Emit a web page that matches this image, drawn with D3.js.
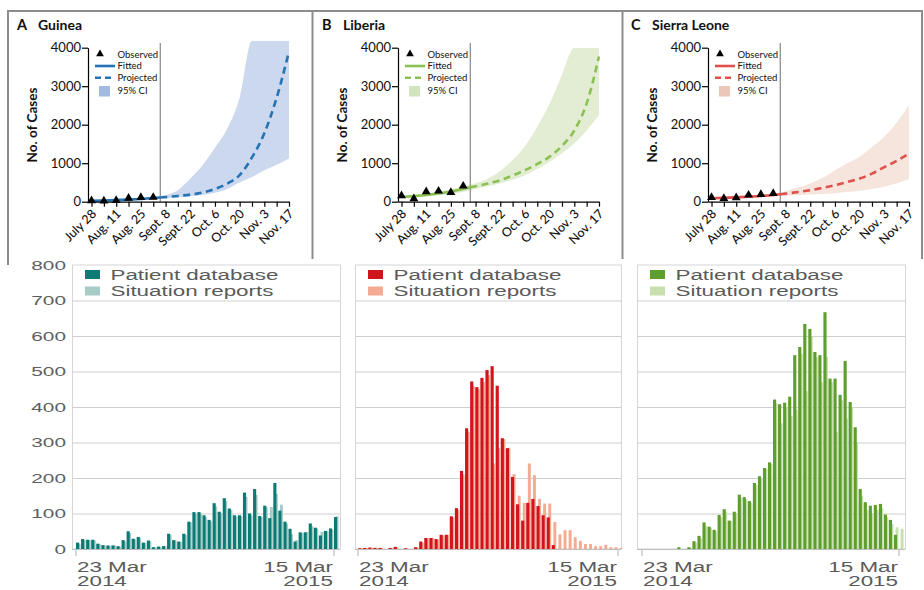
<!DOCTYPE html>
<html>
<head>
<meta charset="utf-8">
<script src="https://cdn.jsdelivr.net/npm/d3@7"></script>
<style>
body { margin: 0; background: #fff; }
svg { display: block; }
.top text { font-family: Lato, "Liberation Sans", sans-serif; fill: #111; }
.bot text { font-family: "Liberation Sans", Arial, sans-serif; }
</style>
</head>
<body>
<svg id="chart" width="924" height="590"></svg>
<script>
// ---- top row: projections (weekly) ----
var countries = ["Guinea", "Liberia", "Sierra Leone"];
var letters = ["A", "B", "C"];

var obsDates = ["2014-07-28", "2014-08-04", "2014-08-11", "2014-08-18", "2014-08-25", "2014-09-01"];
var obsGuinea = [25, 20, 35, 90, 110, 115];
var obsLiberia = [155, 80, 260, 277, 242, 407];
var obsSierra = [113, 87, 104, 173, 190, 216];

// fitted up to the cut-off date, projected after it
var curveDates = ["2014-07-28", "2014-08-04", "2014-08-11", "2014-08-18", "2014-08-25", "2014-09-01", "2014-09-05",
  "2014-09-08", "2014-09-15", "2014-09-22", "2014-09-29", "2014-10-06", "2014-10-13", "2014-10-20",
  "2014-10-27", "2014-11-03", "2014-11-10", "2014-11-17"];
var cutDate = "2014-09-05";

var midGuinea = [25, 32, 42, 55, 72, 95, 110, 120, 150, 185, 240, 330, 470, 690, 1150, 1775, 2700, 3900];
var lowGuinea = [12, 18, 26, 36, 50, 68, 80, 88, 110, 140, 175, 230, 330, 500, 640, 820, 960, 1125];
var highGuinea = [45, 55, 68, 85, 105, 130, 145, 175, 300, 600, 950, 1400, 1900, 2700, 4180, 4180, 4180, 4180];

var midLiberia = [120, 145, 175, 215, 265, 330, 375, 400, 470, 560, 680, 820, 980, 1170, 1450, 1850, 2550, 3770];
var lowLiberia = [90, 110, 135, 165, 205, 255, 290, 330, 400, 475, 570, 690, 850, 1040, 1260, 1515, 1850, 2250];
var highLiberia = [150, 180, 215, 265, 325, 400, 450, 480, 600, 800, 1080, 1450, 1950, 2550, 3300, 4000, 4000, 4000];

var midSierra = [90, 100, 115, 130, 150, 175, 195, 210, 250, 300, 360, 430, 510, 600, 730, 900, 1060, 1250];
var lowSierra = [70, 78, 88, 100, 115, 135, 148, 155, 170, 185, 200, 220, 250, 285, 330, 390, 480, 590];
var highSierra = [115, 125, 142, 160, 185, 215, 240, 280, 370, 475, 620, 820, 1000, 1170, 1420, 1690, 2050, 2510];

var xLabelDates = ["2014-07-28", "2014-08-11", "2014-08-25", "2014-09-08", "2014-09-22", "2014-10-06", "2014-10-20", "2014-11-03", "2014-11-17"];
var xLabels = ["July 28", "Aug. 11", "Aug. 25", "Sept. 8", "Sept. 22", "Oct. 6", "Oct. 20", "Nov. 3", "Nov. 17"];
var yTicksTop = [0, 1000, 2000, 3000, 4000];
var legendTop = ["Observed", "Fitted", "Projected", "95% CI"];

// ---- bottom row: weekly incidence, 23 Mar 2014 .. 15 Mar 2015 ----
var weekStart = "2014-03-23", weekEnd = "2015-03-15";
var patGuinea = [18, 28, 26, 26, 15, 11, 10, 10, 8, 25, 50, 29, 34, 18, 24, 5, 7, 8, 43, 25, 21, 43, 77, 104, 104, 95,
  82, 129, 105, 143, 114, 95, 95, 159, 100, 169, 93, 122, 87, 186, 108, 77, 57, 21, 47, 47, 72, 60, 38, 51, 58, 90];
var sitGuinea = [15, 25, 25, 24, 14, 10, 9, 10, 7, 22, 45, 27, 30, 17, 22, 5, 6, 8, 40, 24, 20, 40, 75, 100, 100, 90,
  78, 120, 100, 135, 110, 92, 93, 147, 95, 152, 90, 118, 118, 155, 125, 72, 42, 25, 45, 48, 65, 58, 48, 50, 55, 92];
var patLiberia = [2, 3, 4, 3, 3, 0, 3, 6, 0, 2, 0, 5, 21, 31, 31, 28, 40, 40, 92, 115, 220, 340, 472, 456, 482, 504,
  515, 460, 312, 284, 203, 126, 80, 130, 141, 121, 95, 89, 11, 0, 0, 0, 0, 0, 0, 0, 0, 0, 0, 0, 0, 0];
var sitLiberia = [3, 3, 4, 3, 3, 0, 3, 5, 0, 2, 0, 4, 18, 30, 30, 27, 38, 40, 88, 110, 210, 330, 460, 450, 470, 490,
  241, 285, 310, 285, 211, 150, 130, 241, 208, 141, 128, 128, 76, 41, 53, 53, 33, 23, 14, 14, 8, 8, 12, 5, 5, 3];
var patSierra = [0, 0, 0, 0, 0, 0, 0, 5, 0, 5, 22, 37, 75, 63, 54, 96, 112, 80, 105, 153, 146, 135, 186, 205, 228, 244,
  421, 408, 412, 429, 546, 569, 634, 620, 555, 546, 667, 480, 480, 434, 530, 414, 343, 169, 132, 122, 124, 127, 97, 82, 40, 0];
var sitSierra = [0, 0, 0, 0, 0, 0, 0, 0, 0, 3, 18, 30, 65, 60, 50, 90, 105, 78, 100, 145, 140, 130, 180, 200, 225, 240,
  410, 354, 400, 375, 392, 550, 445, 600, 540, 470, 542, 470, 330, 420, 368, 400, 300, 150, 110, 100, 110, 115, 90, 70, 61, 57];
var yTicksBot = [0, 100, 200, 300, 400, 500, 600, 700, 800];
var legendBot = ["Patient database", "Situation reports"];
var dateLabels = [["23 Mar", "2014"], ["15 Mar", "2015"]];

var parse = d3.timeParse("%Y-%m-%d");
var svg = d3.select("#chart");

// ================= top =================
var topG = svg.append("g").attr("class", "top");
var frameCol = "#8c8c8c";
topG.append("path").attr("d", "M8,265V11H922V259").attr("fill", "none")
  .attr("stroke", frameCol).attr("stroke-width", 2);
[312.5, 622.5].forEach(function(x) {
  topG.append("line").attr("x1", x).attr("x2", x).attr("y1", 11).attr("y2", 259)
    .attr("stroke", frameCol).attr("stroke-width", 2);
});

var topPanels = [
  {obs: obsGuinea, mid: midGuinea, low: lowGuinea, high: highGuinea, line: "#2474b5", band: "#cbd8ee", key: "#a2badf", ax: 88, lx: 17, clip: 4180},
  {obs: obsLiberia, mid: midLiberia, low: lowLiberia, high: highLiberia, line: "#8bc152", band: "#e3edd4", key: "#d2e4bb", ax: 398, lx: 322, clip: 4000},
  {obs: obsSierra, mid: midSierra, low: lowSierra, high: highSierra, line: "#e0504c", band: "#f6e5dc", key: "#ebc7b8", ax: 708, lx: 631, clip: 4000}
];

var yTop = d3.scaleLinear().domain([0, 4000]).range([201.7, 47.7]);

topPanels.forEach(function(p, i) {
  var g = topG.append("g");
  var x = d3.scaleTime().domain([parse("2014-07-26"), parse("2014-11-17")]).range([p.ax, p.ax + 201]);

  g.append("text").attr("x", p.lx).attr("y", 30).attr("font-size", 14.5).attr("font-weight", "bold").text(letters[i]);
  g.append("text").attr("x", p.lx + 21).attr("y", 30).attr("font-size", 14).attr("font-weight", "bold").text(countries[i]);

  var pts = curveDates.map(function(d, k) {
    return {date: parse(d), mid: p.mid[k], low: p.low[k], high: p.high[k]};
  });
  var cut = parse(cutDate);

  var clipId = "clip" + i;
  g.append("clipPath").attr("id", clipId).append("rect")
    .attr("x", p.ax).attr("y", yTop(p.clip)).attr("width", 205).attr("height", yTop(0) - yTop(p.clip));

  var area = d3.area().x(function(d) { return x(d.date); })
    .y0(function(d) { return yTop(d.low); }).y1(function(d) { return yTop(d.high); })
    .curve(d3.curveMonotoneX);
  g.append("path").datum(pts).attr("d", area).attr("fill", p.band).attr("clip-path", "url(#" + clipId + ")");

  // cut-off line
  g.append("line").attr("x1", x(cut)).attr("x2", x(cut)).attr("y1", 43).attr("y2", yTop(0))
    .attr("stroke", "#8f8f8f").attr("stroke-width", 1.3);

  var line = d3.line().x(function(d) { return x(d.date); }).y(function(d) { return yTop(d.mid); })
    .curve(d3.curveMonotoneX);
  g.append("path").datum(pts.filter(function(d) { return d.date <= cut; })).attr("d", line)
    .attr("fill", "none").attr("stroke", p.line).attr("stroke-width", 2.6);
  g.append("path").datum(pts.filter(function(d) { return d.date >= cut; })).attr("d", line)
    .attr("fill", "none").attr("stroke", p.line).attr("stroke-width", 2.6).attr("stroke-dasharray", "7,4.5");

  // observed
  g.selectAll(".obs").data(p.obs).enter().append("path")
    .attr("d", d3.symbol().type(d3.symbolTriangle).size(34))
    .attr("transform", function(d, k) { return "translate(" + x(parse(obsDates[k])) + "," + yTop(d) + ")"; })
    .attr("fill", "#000");

  // axes
  var ya = g.append("g").attr("transform", "translate(" + p.ax + ",0)")
    .call(d3.axisLeft(yTop).tickValues(yTicksTop).tickSize(6).tickSizeOuter(0).tickPadding(1).tickFormat(d3.format("d")));
  ya.selectAll("text").attr("font-size", 13);
  ya.selectAll("line,path").attr("stroke", "#000").attr("stroke-width", 1.2);

  var weekTicks = d3.timeDay.range(parse("2014-07-28"), parse("2014-11-18"), 7);
  var labelMap = {};
  xLabelDates.forEach(function(d, k) { labelMap[+parse(d)] = xLabels[k]; });
  var xa = g.append("g").attr("transform", "translate(0," + yTop(0) + ")")
    .call(d3.axisBottom(x).tickValues(weekTicks).tickSize(5).tickSizeOuter(0)
      .tickFormat(function(d) { return labelMap[+d] || ""; }));
  xa.selectAll("line,path").attr("stroke", "#000").attr("stroke-width", 1.2);
  xa.selectAll("text").attr("font-size", 12.5).attr("font-weight", 500).attr("text-anchor", "end")
    .attr("x", 0).attr("y", 0).attr("dy", 0).attr("transform", "translate(5,13) rotate(-45)");

  g.append("text").attr("transform", "translate(" + (p.ax - 51) + "," + 125 + ") rotate(-90)")
    .attr("text-anchor", "middle").attr("font-size", 13.5).attr("font-weight", "bold").text("No. of Cases");

  // legend
  var lg = g.append("g").attr("transform", "translate(" + p.ax + ",0)").attr("font-size", 9.5);
  lg.append("path").attr("d", d3.symbol().type(d3.symbolTriangle).size(26)).attr("transform", "translate(12,54)");
  lg.append("line").attr("x1", 7).attr("x2", 27).attr("y1", 66).attr("y2", 66).attr("stroke", p.line).attr("stroke-width", 2.6);
  lg.append("line").attr("x1", 7).attr("x2", 27).attr("y1", 77.7).attr("y2", 77.7).attr("stroke", p.line)
    .attr("stroke-width", 2.6).attr("stroke-dasharray", "6,4");
  lg.append("rect").attr("x", 11).attr("y", 86).attr("width", 11).attr("height", 10.5).attr("fill", p.key);
  [54.3, 66, 77.7, 91].forEach(function(yy, k) {
    lg.append("text").attr("x", 29.5).attr("y", yy).attr("dy", "0.35em").text(legendTop[k]);
  });
});

// ================= bottom =================
var botG = svg.append("g").attr("class", "bot");
var yBot = d3.scaleLinear().domain([0, 800]).range([549, 265]);
var sx = 1.6;

var botPanels = [
  {pat: patGuinea, sit: sitGuinea, dark: "#0c7b76", light: "#a7cbc6", fx: [72, 340], tx: [76, 334]},
  {pat: patLiberia, sit: sitLiberia, dark: "#d2141d", light: "#f3ac93", fx: [355, 621], tx: [358, 618]},
  {pat: patSierra, sit: sitSierra, dark: "#5d9e2d", light: "#c8dfaf", fx: [637, 905], tx: [642, 899]}
];

// y labels (first panel only)
yTicksBot.forEach(function(v) {
  botG.append("text").attr("transform", "translate(66," + yBot(v) + ") scale(" + sx + ",1)")
    .attr("text-anchor", "end").attr("dy", "0.36em").attr("font-size", 13).attr("fill", "#5e5e5e")
    .text(v);
});

botPanels.forEach(function(p) {
  var g = botG.append("g");
  var x = d3.scaleTime().domain([parse(weekStart), parse(weekEnd)]).range(p.tx);
  var w = x(d3.timeDay.offset(parse(weekStart), 7)) - x(parse(weekStart));

  g.append("rect").attr("x", p.fx[0] + 0.5).attr("y", yBot(800)).attr("width", p.fx[1] - p.fx[0])
    .attr("height", yBot(0) - yBot(800)).attr("fill", "none").attr("stroke", "#d6d6d6");
  yTicksBot.filter(function(v) { return v > 0 && v < 800; }).forEach(function(v) {
    g.append("line").attr("x1", p.fx[0]).attr("x2", p.fx[1]).attr("y1", yBot(v) + 0.5).attr("y2", yBot(v) + 0.5)
      .attr("stroke", "#cfcfcf");
  });

  var weeks = p.pat.map(function(v, k) { return d3.timeDay.offset(parse(weekStart), 7 * k); });
  g.selectAll(".sit").data(p.sit).enter().append("rect")
    .attr("x", function(d, k) { return x(weeks[k]) + w * 0.32; })
    .attr("width", w * 0.58)
    .attr("y", function(d) { return yBot(d); })
    .attr("height", function(d) { return yBot(0) - yBot(d); })
    .attr("fill", p.light);
  g.selectAll(".pat").data(p.pat).enter().append("rect")
    .attr("x", function(d, k) { return x(weeks[k]); })
    .attr("width", w * 0.62)
    .attr("y", function(d) { return yBot(d); })
    .attr("height", function(d) { return yBot(0) - yBot(d); })
    .attr("fill", p.dark);

  // axis
  g.append("line").attr("x1", p.fx[0]).attr("x2", p.fx[1]).attr("y1", yBot(0) + 0.5).attr("y2", yBot(0) + 0.5)
    .attr("stroke", "#bdbdbd");
  [parse(weekStart), parse(weekEnd)].forEach(function(d, k) {
    var xx = x(d);
    g.append("line").attr("x1", xx).attr("x2", xx).attr("y1", yBot(0)).attr("y2", yBot(0) + 7)
      .attr("stroke", "#c4c4c4").attr("stroke-width", 1.3);
    var anchor = k === 0 ? "start" : "end";
    var ax = k === 0 ? xx + 1 : xx - 1;
    dateLabels[k].forEach(function(s, r) {
      g.append("text").attr("transform", "translate(" + ax + "," + (571.5 + r * 14) + ") scale(" + sx + ",1)")
        .attr("text-anchor", anchor).attr("font-size", 14).attr("fill", "#5a5a5a").text(s);
    });
  });

  // legend
  [p.dark, p.light].forEach(function(c, k) {
    g.append("rect").attr("x", p.fx[0] + 13).attr("y", 270 + k * 16.5).attr("width", 15).attr("height", 9).attr("fill", c);
    g.append("text").attr("transform", "translate(" + (p.fx[0] + 38.5) + "," + (280 + k * 16) + ") scale(" + sx + ",1)")
      .attr("font-size", 14).attr("fill", "#5a5a5a").text(legendBot[k]);
  });
});
</script>
</body>
</html>
